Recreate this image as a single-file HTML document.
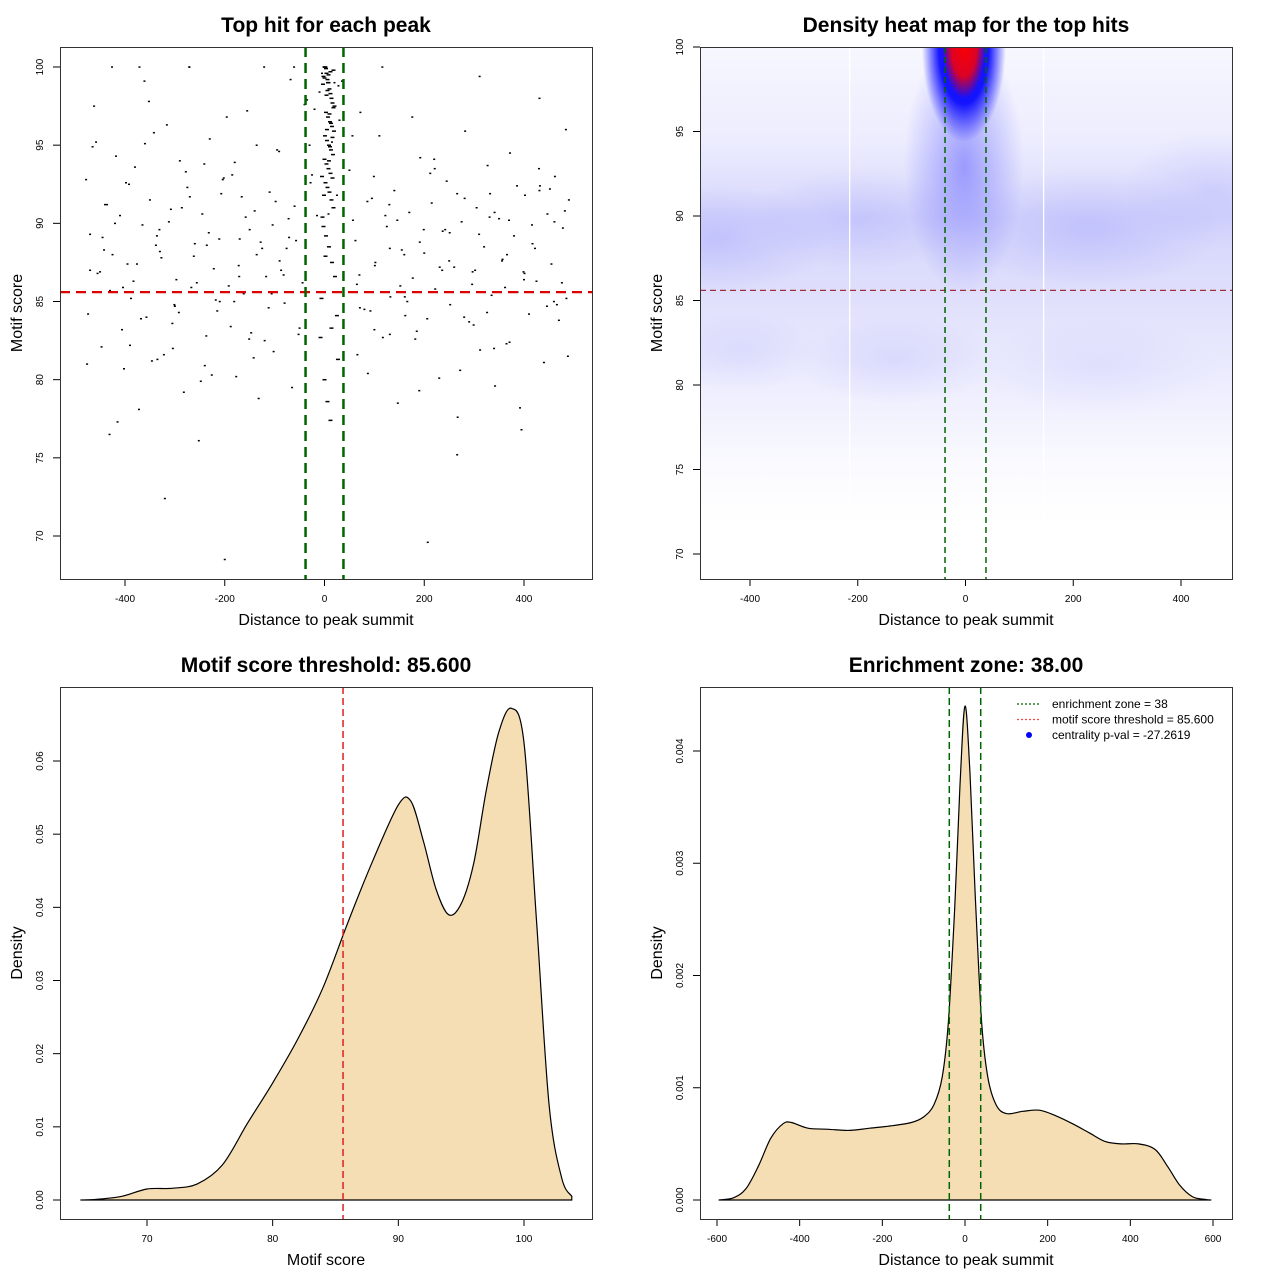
<!DOCTYPE html>
<html><head><meta charset="utf-8"><style>
html,body{margin:0;padding:0;background:#fff;}
svg{display:block;font-family:"Liberation Sans",sans-serif;}
</style></head><body>
<svg id="c" width="1280" height="1280" viewBox="0 0 1280 1280" xmlns="http://www.w3.org/2000/svg">
<defs>
<clipPath id="cp2"><rect x="700" y="47" width="532" height="532"/></clipPath>
<linearGradient id="gBg" x1="0" y1="0" x2="0" y2="1">
<stop offset="0" stop-color="#f7f7ff"/><stop offset="0.18" stop-color="#ececfe"/><stop offset="0.32" stop-color="#d6d6fc"/><stop offset="0.42" stop-color="#dcdcfc"/><stop offset="0.55" stop-color="#e6e6fd"/><stop offset="0.68" stop-color="#f1f1fe"/><stop offset="0.8" stop-color="#fbfbff"/><stop offset="0.9" stop-color="#ffffff"/>
</linearGradient>
<radialGradient id="gBlue"><stop offset="0" stop-color="#0000ff" stop-opacity="1"/><stop offset="0.6" stop-color="#0000ff" stop-opacity="0.9"/><stop offset="1" stop-color="#0000ff" stop-opacity="0"/></radialGradient>
<radialGradient id="gMid"><stop offset="0" stop-color="#6060ff" stop-opacity="0.7"/><stop offset="1" stop-color="#6060ff" stop-opacity="0"/></radialGradient>
<radialGradient id="gRed"><stop offset="0" stop-color="#ff0000" stop-opacity="1"/><stop offset="0.6" stop-color="#ff0000" stop-opacity="0.85"/><stop offset="1" stop-color="#ff0000" stop-opacity="0"/></radialGradient>
<radialGradient id="gFaint"><stop offset="0" stop-color="#8080ff" stop-opacity="0.25"/><stop offset="1" stop-color="#8080ff" stop-opacity="0"/></radialGradient>
</defs>
<g id="g1"></g>
<g id="g2"></g>
<g id="g3"></g>
<g id="g4"></g>
</svg>
<script>
// ---------- data ----------
const scatterX = [-478,-470,-462,-455,-447,-440,-431,-425,-418,-410,-402,-395,-388,-380,-372,-365,-357,-350,-342,-335,-327,-320,-312,-305,-297,-290,-282,-275,-267,-260,-252,-245,-237,-230,-222,-215,-207,-200,-192,-185,-177,-170,-162,-155,-147,-140,-132,-125,-117,-110,-102,-95,-87,-80,-72,-65,-57,-50,-44,-60,-90,-120,-150,-180,-210,-240,-270,-300,-330,-360,-390,-420,-450,-476,-465,-445,-430,-415,-398,-383,-368,-352,-338,-322,-308,-292,-278,-262,-248,-232,-218,-202,-188,-172,-158,-142,-128,-112,-98,-82,-68,-52,
50,57,65,72,80,87,95,102,110,117,125,132,140,147,155,162,170,177,185,192,200,207,215,222,230,237,245,252,260,267,275,282,290,297,305,312,320,327,335,342,350,357,365,372,380,387,395,402,410,417,425,432,440,447,455,462,470,478,485,490,62,92,122,152,182,212,242,272,302,332,362,392,422,452,482,70,100,130,160,190,220,250,280,310,340,370,400,430,460,488,-30,-20,-10,20,30,-25,25,-35,35,-15,15,-28,28,-5,8,
-474,-458,-442,-426,-406,-392,-376,-361,-346,-331,-316,-301,-286,-271,-256,-241,-226,-211,-196,-181,-166,-151,-136,-121,-106,-91,-76,-61,-470,-436,-404,-371,-336,-304,-271,-236,-204,-171,-136,-104,-71,
56,71,86,101,116,131,146,161,176,191,206,221,236,251,266,281,296,311,326,341,356,371,386,401,416,431,446,461,476,66,99,131,166,199,231,266,299,331,366,399,431,466,484,-40,40];
const scatterY = [92.8,89.3,97.5,86.8,82.1,91.2,76.5,88.0,94.3,90.5,80.7,87.4,85.2,93.6,78.1,89.9,84.0,91.5,95.8,81.3,87.8,72.4,90.1,83.6,86.4,94.0,79.2,92.3,85.9,88.7,76.1,90.6,82.8,95.4,87.1,84.4,91.9,68.5,86.0,93.1,80.2,89.0,85.5,97.2,83.0,90.8,78.8,88.4,86.6,92.0,81.8,94.7,87.0,84.9,90.3,79.5,88.9,83.3,86.2,91.1,87.6,82.5,89.6,93.9,85.0,80.9,91.7,84.7,88.2,95.1,82.2,90.0,86.9,81.0,94.9,89.1,85.7,77.3,92.6,86.3,83.9,97.8,88.6,81.6,90.9,84.3,93.3,87.9,79.9,89.4,85.1,92.9,83.4,87.3,90.4,81.4,88.8,84.6,91.4,86.7,99.2,82.9,
93.4,90.2,86.1,97.1,84.5,80.4,91.6,87.5,95.6,82.7,89.8,85.3,92.1,78.5,88.3,84.1,90.7,86.5,83.1,94.2,88.1,69.6,91.3,85.8,80.1,89.5,92.7,84.8,87.2,77.6,90.1,95.9,83.7,86.9,91.0,81.9,88.5,93.7,85.4,79.6,90.3,87.7,82.3,94.5,89.2,85.6,76.8,91.8,84.2,88.7,86.3,92.4,81.1,90.6,87.4,93.0,83.8,89.7,85.2,91.5,88.9,84.4,90.5,86.0,82.6,93.2,89.6,80.6,87.0,91.9,85.9,78.2,88.4,92.2,90.8,86.7,83.2,91.2,88.0,79.3,94.1,87.6,84.0,89.3,82.0,90.2,86.4,93.5,85.0,81.5,95.0,97.3,98.4,99.0,96.6,93.1,91.8,97.9,99.1,90.5,95.2,92.6,98.8,99.6,
90.6,84.2,95.2,88.3,100,83.2,92.5,87.4,99.1,81.2,89.6,96.3,84.8,91.0,100,86.2,93.8,80.3,89.0,96.8,85.0,91.7,82.6,88.0,100,85.5,94.6,88.4,100,87.0,91.2,85.9,100,89.2,82.0,100,88.6,92.8,86.6,95.0,89.9,
89.1,95.6,84.6,91.4,87.3,100,82.9,90.2,85.3,96.8,88.8,83.9,93.5,87.0,89.4,75.2,91.6,86.1,99.4,84.3,90.7,87.6,82.4,92.4,86.8,89.9,98.0,84.7,90.1,86.2,81.6,93.0,88.4,85.0,89.6,87.2,91.9,83.5,90.4,88.0,86.9,92.1,84.8,96.0,97.6];
// central column (distance, score)
const centerX = [0,2,4,6,8,10,12,14,16,18,3,7,11,15,19,1,5,9,13,17,0,4,8,12,16,2,6,10,14,18,-4,-2,3,9,15,21,-6,25,-8,27,0,6,12,18,-3,20,5,11,2,14,-2,4,10,16,-5,7,13,1,9,-1,3,8,12,0,6];
const centerY = [100,100,99.6,99.2,99.0,98.6,98.3,98.0,97.7,97.4,97.1,96.8,96.5,96.2,95.9,95.6,95.3,95.0,94.7,94.4,94.1,93.8,93.5,93.2,92.9,92.6,92.3,92.0,91.5,91.0,90.4,89.8,89.2,88.5,87.5,86.6,85.2,84.1,82.7,81.3,80.0,78.6,77.4,99.8,98.9,97.5,96.0,94.9,87.9,83.3,99.4,98.2,97.0,95.5,93.0,99.0,96.4,100,94.0,91.8,99.9,99.5,99.7,99.3,98.5];
const xTicks1 = [-400,-200,0,200,400];
const yTicks1 = [70,75,80,85,90,95,100];
const yTicks2 = [70,75,80,85,90,95,100];
const scoreGrid = [64.7,66,68,70,72,74,76,78,80,82,84,86,88,90,91,92,93,94,95,96,97,98,99,100,101,102,103,103.8];
const scoreDens = [0,0.0001,0.0005,0.0015,0.0016,0.0022,0.0048,0.0105,0.016,0.022,0.029,0.038,0.0465,0.054,0.0545,0.049,0.0425,0.039,0.0405,0.046,0.056,0.064,0.0672,0.0625,0.038,0.013,0.003,0.0005];
const xTicks3 = [70,80,90,100];
const yTicks3 = [0,0.01,0.02,0.03,0.04,0.05,0.06];
const distGrid = [-595,-560,-530,-500,-470,-440,-420,-380,-330,-280,-230,-180,-130,-100,-75,-55,-40,-25,-12,0,12,25,40,55,75,100,140,180,220,260,300,340,380,420,460,490,520,550,580,595];
const distDens = [0,0.00002,0.0001,0.0003,0.00055,0.00068,0.00069,0.00064,0.00063,0.00062,0.00064,0.00066,0.00069,0.00074,0.00085,0.0011,0.0016,0.0026,0.0037,0.0044,0.0038,0.0027,0.0016,0.0011,0.00085,0.00077,0.00079,0.0008,0.00075,0.00068,0.0006,0.00052,0.0005,0.0005,0.00045,0.0003,0.00013,0.00003,0.000005,0];
const xTicks4 = [-600,-400,-200,0,200,400,600];
const yTicks4 = [0,0.001,0.002,0.003,0.004];
const enrichZone = 38, threshold = 85.6;

const NS="http://www.w3.org/2000/svg";
function mk(p,tag,attrs,txt){const e=document.createElementNS(NS,tag);for(const k in attrs)e.setAttribute(k,attrs[k]);if(txt!==undefined)e.textContent=txt;p.appendChild(e);return e;}
function lin(d0,d1,r0,r1){return v=>r0+(v-d0)*(r1-r0)/(d1-d0);}
function smooth(pts){
  let d='';
  for(let i=0;i<pts.length-1;i++){
    const p0=pts[Math.max(0,i-1)],p1=pts[i],p2=pts[i+1],p3=pts[Math.min(pts.length-1,i+2)];
    const c1=[p1[0]+(p2[0]-p0[0])/6,p1[1]+(p2[1]-p0[1])/6];
    const c2=[p2[0]-(p3[0]-p1[0])/6,p2[1]-(p3[1]-p1[1])/6];
    d+=` C${c1[0].toFixed(1)},${c1[1].toFixed(1)} ${c2[0].toFixed(1)},${c2[1].toFixed(1)} ${p2[0].toFixed(1)},${p2[1].toFixed(1)}`;
  }
  return d;
}

function frame(g,x0,y0,title,xlab,ylab,sx,sy,xt,yt,yfmt){
  const t=mk(g,'text',{x:x0+266,y:y0-15,'text-anchor':'middle','font-size':21,'font-weight':'bold'},title);
  
  const xl=mk(g,'text',{x:x0+266,y:y0+578,'text-anchor':'middle','font-size':16},xlab);
  
  const yl=mk(g,'text',{x:0,y:0,'text-anchor':'middle','font-size':16,transform:`translate(${x0-38},${y0+266}) rotate(-90)`},ylab);
  
  xt.forEach(v=>{const X=sx(v);mk(g,'line',{x1:X,x2:X,y1:y0+532,y2:y0+539,stroke:'#000'});
    const l=mk(g,'text',{x:X,y:y0+555,'text-anchor':'middle','font-size':10},String(v));
    });
  yt.forEach(v=>{const Y=sy(v);mk(g,'line',{x1:x0-7,x2:x0,y1:Y,y2:Y,stroke:'#000'});
    const l=mk(g,'text',{x:0,y:0,'text-anchor':'middle','font-size':10,transform:`translate(${x0-17},${Y}) rotate(-90)`},yfmt?yfmt(v):String(v));
    });
}
function box(g,x0,y0){const b=mk(g,'rect',{x:x0+0.5,y:y0+0.5,width:532,height:532,fill:'none',stroke:'#333'});
  }

// ---------- panel 1 ----------
(function(){
const g=document.getElementById('g1');
const sx=lin(-400,400,125,524), sy=lin(70,100,536,67);
frame(g,60,47,'Top hit for each peak','Distance to peak summit','Motif score',sx,sy,xTicks1,yTicks1);
scatterX.forEach((x,i)=>{if(typeof scatterY[i]!=='number')return;
  const p=mk(g,'rect',{x:sx(x)-1,y:sy(scatterY[i])-0.7,width:2,height:1.5,fill:'#000'});
  });
centerX.forEach((x,i)=>{if(typeof centerY[i]!=='number')return;
  const p=mk(g,'rect',{x:sx(x)-2,y:sy(centerY[i])-0.7,width:4,height:1.5,fill:'#000'});
  });
const h=mk(g,'line',{x1:60,x2:592,y1:sy(threshold),y2:sy(threshold),stroke:'#d00',"stroke-width":2.2,"stroke-dasharray":'10,6'});

[-enrichZone,enrichZone].forEach(v=>{const l=mk(g,'line',{x1:sx(v),x2:sx(v),y1:47,y2:579,stroke:'#006400',"stroke-width":2.5,"stroke-dasharray":'10,6'});
  });
box(g,60,47);
})();

// ---------- panel 2 ----------
(function(){
const g=document.getElementById('g2');
const sx=lin(-400,400,750,1181), sy=lin(70,100,554,47);
frame(g,700,47,'Density heat map for the top hits','Distance to peak summit','Motif score',sx,sy,xTicks1,yTicks2);
const hm=mk(g,'g',{'clip-path':'url(#cp2)'});

mk(hm,'rect',{x:700,y:47,width:532,height:532,fill:'url(#gBg)'});
const blobs=[[-460,88.6,110,55,1],[-200,89.8,110,50,0.8],[230,89.2,130,60,1],[460,91.5,90,60,0.7],[-130,81.5,100,45,0.6],[-420,82,80,40,0.5],[250,81,120,50,0.4]];
blobs.forEach(b=>{mk(hm,'ellipse',{cx:sx(b[0]),cy:sy(b[1]),rx:b[2],ry:b[3],fill:'url(#gFaint)',opacity:b[4]});});
mk(hm,'ellipse',{cx:sx(-3),cy:sy(93),rx:60,ry:130,fill:'url(#gMid)',opacity:0.8});
mk(hm,'ellipse',{cx:sx(-3),cy:sy(100),rx:42,ry:95,fill:'url(#gBlue)'});
mk(hm,'ellipse',{cx:sx(-3),cy:sy(100.2),rx:22,ry:55,fill:'url(#gRed)'});
[-215,145].forEach(v=>mk(hm,'line',{x1:sx(v),x2:sx(v),y1:47,y2:579,stroke:'#fff','stroke-width':1.3}));
const h=mk(g,'line',{x1:700,x2:1232,y1:sy(threshold),y2:sy(threshold),stroke:'#a03040',"stroke-width":1.3,"stroke-dasharray":'6,4'});

[-enrichZone,enrichZone].forEach(v=>{const l=mk(g,'line',{x1:sx(v),x2:sx(v),y1:47,y2:579,stroke:'#006400',"stroke-width":1.5,"stroke-dasharray":'6,4'});
  });
box(g,700,47);
})();

// ---------- panel 3 ----------
(function(){
const g=document.getElementById('g3');
const sx=lin(70,100,147,524), sy=lin(0,0.06,1200,761);
frame(g,60,687,'Motif score threshold: 85.600','Motif score','Density',sx,sy,xTicks3,yTicks3,v=>v.toFixed(2));
const pts=scoreGrid.map((x,i)=>[sx(x),sy(scoreDens[i])]);
const last=pts[pts.length-1];
const a=mk(g,'path',{d:'M'+pts[0][0]+','+pts[0][1]+smooth(pts)+' L'+last[0]+','+sy(0)+' L'+pts[0][0]+','+sy(0)+' Z',fill:'#f5deb3',stroke:'none'});

mk(g,'path',{d:'M'+pts[0][0]+','+pts[0][1]+smooth(pts)+' L'+last[0]+','+sy(0)+' L'+pts[0][0]+','+sy(0),fill:'none',stroke:'#000','stroke-width':1.2});
const v=mk(g,'line',{x1:sx(threshold),x2:sx(threshold),y1:687,y2:1219,stroke:'#e02020',"stroke-width":1.5,"stroke-dasharray":'7,4'});

box(g,60,687);
})();

// ---------- panel 4 ----------
(function(){
const g=document.getElementById('g4');
const sx=lin(-600,600,717,1213), sy=lin(0,0.004,1200,751);
frame(g,700,687,'Enrichment zone: 38.00','Distance to peak summit','Density',sx,sy,xTicks4,yTicks4,v=>v.toFixed(3));
const pts=distGrid.map((x,i)=>[sx(x),sy(distDens[i])]);
const a=mk(g,'path',{d:'M'+pts[0][0]+','+pts[0][1]+smooth(pts)+' Z',fill:'#f5deb3',stroke:'#000','stroke-width':1.2,'stroke-linejoin':'round'});

[-enrichZone,enrichZone].forEach(v=>{const l=mk(g,'line',{x1:sx(v),x2:sx(v),y1:687,y2:1219,stroke:'#006400',"stroke-width":1.5,"stroke-dasharray":'7,4'});
  });
const lg=mk(g,'g',{});

const items=[['enrichment zone = 38','#006400','line'],['motif score threshold = 85.600','#ff4040','line'],['centrality p-val = -27.2619','#0000ff','dot']];
items.forEach((it,i)=>{const y=704+i*15.5;
  const e=mk(lg,'g',{});
  if(it[2]==='line')mk(e,'line',{x1:1017,x2:1041,y1:y,y2:y,stroke:it[1],'stroke-width':1.2,'stroke-dasharray':'2,2'});
  else mk(e,'circle',{cx:1029,cy:y,r:3,fill:it[1]});
  mk(e,'text',{x:1052,y:y+4,'font-size':12},it[0]);});
box(g,700,687);
})();
</script>
</body></html>
